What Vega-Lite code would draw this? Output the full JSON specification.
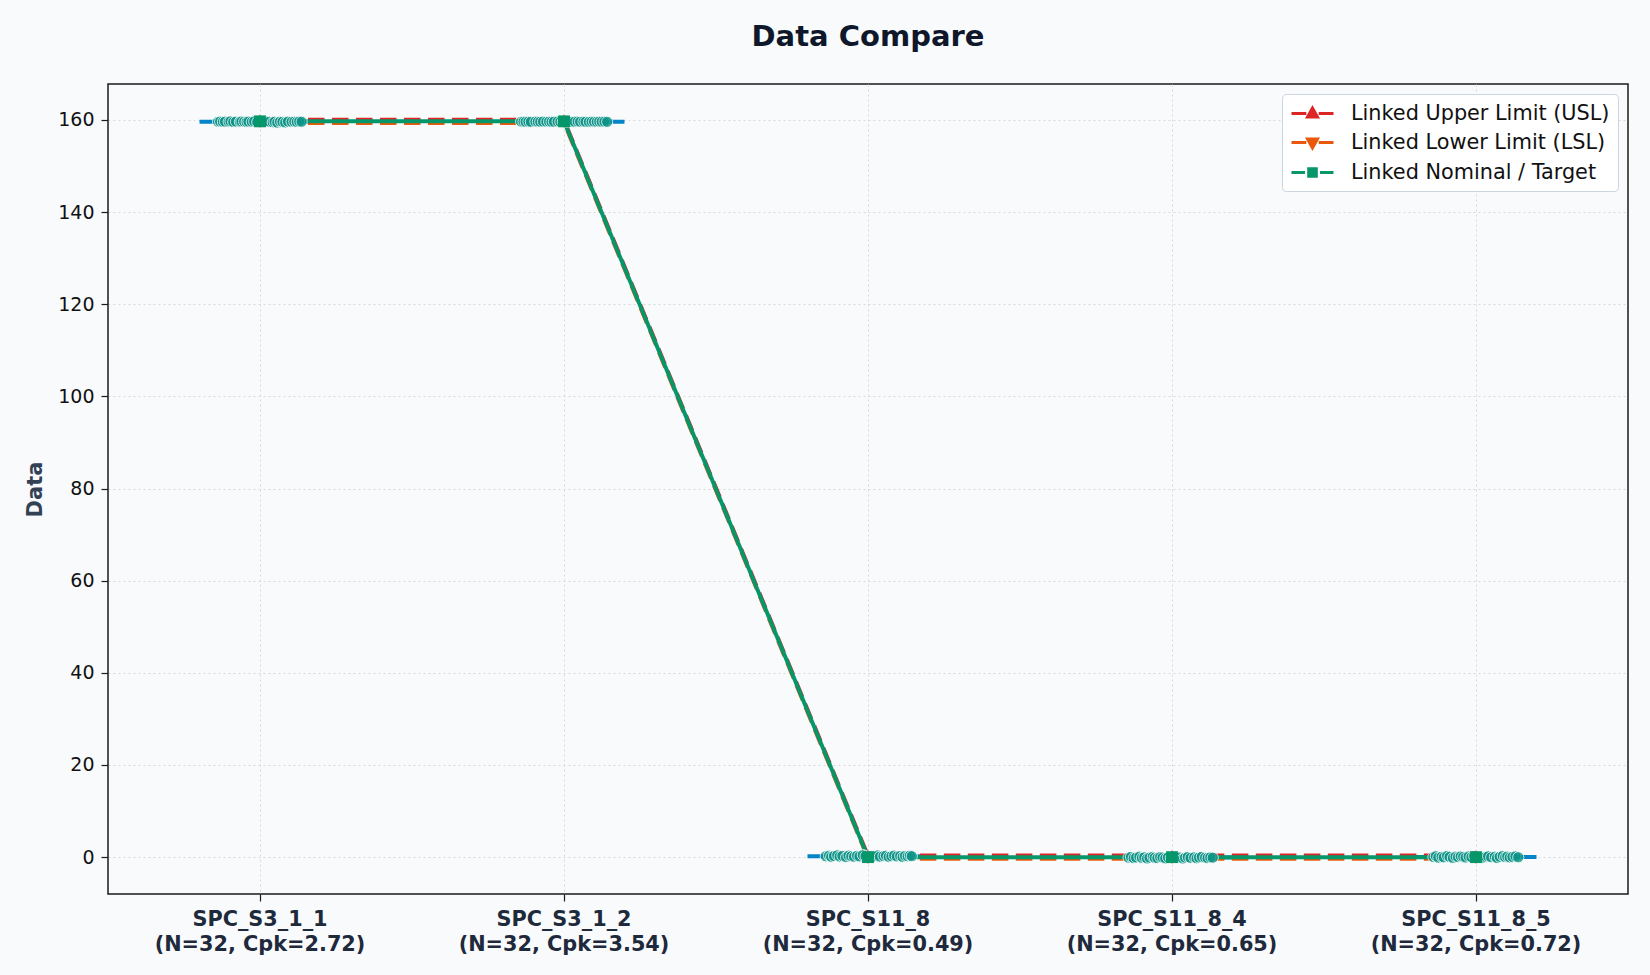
{
  "$schema": "https://vega.github.io/schema/vega-lite/v6.json",
  "width": 1520,
  "height": 810,
  "autosize": {"type": "none"},
  "padding": {"left": 108, "top": 84, "right": 22, "bottom": 81},
  "background": "#f8fafc",
  "title": {
    "text": "Data Compare",
    "font": "DejaVu Sans",
    "fontSize": 29,
    "fontWeight": "bold",
    "color": "#0f172a",
    "anchor": "middle",
    "baseline": "alphabetic",
    "offset": 9
  },
  "config": {
    "font": "DejaVu Sans",
    "view": {"fill": "white", "stroke": "#1a1a1a", "strokeWidth": 1.5}
  },
  "datasets": {
    "limits": [
      {"g": "SPC_S3_1_1", "label": "SPC_S3_1_1\n(N=32, Cpk=2.72)", "usl": 160.1, "lsl": 159.3, "nom": 159.7},
      {"g": "SPC_S3_1_2", "label": "SPC_S3_1_2\n(N=32, Cpk=3.54)", "usl": 160.1, "lsl": 159.3, "nom": 159.7},
      {"g": "SPC_S11_8", "label": "SPC_S11_8\n(N=32, Cpk=0.49)", "usl": 0.4, "lsl": -0.4, "nom": 0},
      {"g": "SPC_S11_8_4", "label": "SPC_S11_8_4\n(N=32, Cpk=0.65)", "usl": 0.4, "lsl": -0.4, "nom": 0},
      {"g": "SPC_S11_8_5", "label": "SPC_S11_8_5\n(N=32, Cpk=0.72)", "usl": 0.4, "lsl": -0.4, "nom": 0}
    ],
    "series": [
      {"series": "Linked Upper Limit (USL)"},
      {"series": "Linked Lower Limit (LSL)"},
      {"series": "Linked Nominal / Target"}
    ],
    "points": [
      {"g": "SPC_S3_1_1", "j": -0.138, "v": 159.60}, {"g": "SPC_S3_1_1", "j": -0.131, "v": 159.66},
      {"g": "SPC_S3_1_1", "j": -0.122, "v": 159.58}, {"g": "SPC_S3_1_1", "j": -0.115, "v": 159.63},
      {"g": "SPC_S3_1_1", "j": -0.103, "v": 159.61}, {"g": "SPC_S3_1_1", "j": -0.097, "v": 159.70},
      {"g": "SPC_S3_1_1", "j": -0.088, "v": 159.55}, {"g": "SPC_S3_1_1", "j": -0.079, "v": 159.64},
      {"g": "SPC_S3_1_1", "j": -0.066, "v": 159.59}, {"g": "SPC_S3_1_1", "j": -0.061, "v": 159.67},
      {"g": "SPC_S3_1_1", "j": -0.052, "v": 159.62}, {"g": "SPC_S3_1_1", "j": -0.044, "v": 159.57},
      {"g": "SPC_S3_1_1", "j": -0.038, "v": 159.65}, {"g": "SPC_S3_1_1", "j": -0.027, "v": 159.60},
      {"g": "SPC_S3_1_1", "j": -0.019, "v": 159.68}, {"g": "SPC_S3_1_1", "j": -0.009, "v": 159.54},
      {"g": "SPC_S3_1_1", "j": 0.003, "v": 159.63}, {"g": "SPC_S3_1_1", "j": 0.011, "v": 159.59},
      {"g": "SPC_S3_1_1", "j": 0.022, "v": 159.66}, {"g": "SPC_S3_1_1", "j": 0.031, "v": 159.61},
      {"g": "SPC_S3_1_1", "j": 0.042, "v": 159.48}, {"g": "SPC_S3_1_1", "j": 0.048, "v": 159.62},
      {"g": "SPC_S3_1_1", "j": 0.057, "v": 159.40}, {"g": "SPC_S3_1_1", "j": 0.066, "v": 159.64},
      {"g": "SPC_S3_1_1", "j": 0.074, "v": 159.58}, {"g": "SPC_S3_1_1", "j": 0.083, "v": 159.45},
      {"g": "SPC_S3_1_1", "j": 0.092, "v": 159.65}, {"g": "SPC_S3_1_1", "j": 0.104, "v": 159.60},
      {"g": "SPC_S3_1_1", "j": 0.113, "v": 159.63}, {"g": "SPC_S3_1_1", "j": 0.121, "v": 159.57},
      {"g": "SPC_S3_1_1", "j": 0.129, "v": 159.66}, {"g": "SPC_S3_1_1", "j": 0.137, "v": 159.61},

      {"g": "SPC_S3_1_2", "j": -0.141, "v": 159.61}, {"g": "SPC_S3_1_2", "j": -0.133, "v": 159.64},
      {"g": "SPC_S3_1_2", "j": -0.126, "v": 159.60}, {"g": "SPC_S3_1_2", "j": -0.117, "v": 159.63},
      {"g": "SPC_S3_1_2", "j": -0.109, "v": 159.59}, {"g": "SPC_S3_1_2", "j": -0.094, "v": 159.65},
      {"g": "SPC_S3_1_2", "j": -0.086, "v": 159.62}, {"g": "SPC_S3_1_2", "j": -0.078, "v": 159.60},
      {"g": "SPC_S3_1_2", "j": -0.069, "v": 159.64}, {"g": "SPC_S3_1_2", "j": -0.058, "v": 159.61},
      {"g": "SPC_S3_1_2", "j": -0.049, "v": 159.63}, {"g": "SPC_S3_1_2", "j": -0.041, "v": 159.58},
      {"g": "SPC_S3_1_2", "j": -0.033, "v": 159.62}, {"g": "SPC_S3_1_2", "j": -0.021, "v": 159.65},
      {"g": "SPC_S3_1_2", "j": -0.012, "v": 159.60}, {"g": "SPC_S3_1_2", "j": -0.004, "v": 159.63},
      {"g": "SPC_S3_1_2", "j": 0.006, "v": 159.61}, {"g": "SPC_S3_1_2", "j": 0.017, "v": 159.64},
      {"g": "SPC_S3_1_2", "j": 0.026, "v": 159.59}, {"g": "SPC_S3_1_2", "j": 0.035, "v": 159.62},
      {"g": "SPC_S3_1_2", "j": 0.045, "v": 159.66}, {"g": "SPC_S3_1_2", "j": 0.053, "v": 159.60},
      {"g": "SPC_S3_1_2", "j": 0.064, "v": 159.63}, {"g": "SPC_S3_1_2", "j": 0.071, "v": 159.61},
      {"g": "SPC_S3_1_2", "j": 0.082, "v": 159.58}, {"g": "SPC_S3_1_2", "j": 0.091, "v": 159.64},
      {"g": "SPC_S3_1_2", "j": 0.099, "v": 159.62}, {"g": "SPC_S3_1_2", "j": 0.108, "v": 159.60},
      {"g": "SPC_S3_1_2", "j": 0.116, "v": 159.65}, {"g": "SPC_S3_1_2", "j": 0.124, "v": 159.61},
      {"g": "SPC_S3_1_2", "j": 0.133, "v": 159.63}, {"g": "SPC_S3_1_2", "j": 0.142, "v": 159.59},

      {"g": "SPC_S11_8", "j": -0.139, "v": 0.18}, {"g": "SPC_S11_8", "j": -0.128, "v": 0.32},
      {"g": "SPC_S11_8", "j": -0.121, "v": 0.05}, {"g": "SPC_S11_8", "j": -0.112, "v": 0.24},
      {"g": "SPC_S11_8", "j": -0.101, "v": 0.41}, {"g": "SPC_S11_8", "j": -0.093, "v": 0.12},
      {"g": "SPC_S11_8", "j": -0.084, "v": 0.27}, {"g": "SPC_S11_8", "j": -0.072, "v": -0.02},
      {"g": "SPC_S11_8", "j": -0.064, "v": 0.35}, {"g": "SPC_S11_8", "j": -0.055, "v": 0.19},
      {"g": "SPC_S11_8", "j": -0.046, "v": 0.08}, {"g": "SPC_S11_8", "j": -0.036, "v": 0.29},
      {"g": "SPC_S11_8", "j": -0.028, "v": 0.15}, {"g": "SPC_S11_8", "j": -0.017, "v": 0.44},
      {"g": "SPC_S11_8", "j": -0.008, "v": 0.22}, {"g": "SPC_S11_8", "j": 0.002, "v": 0.01},
      {"g": "SPC_S11_8", "j": 0.013, "v": 0.26}, {"g": "SPC_S11_8", "j": 0.021, "v": 0.17},
      {"g": "SPC_S11_8", "j": 0.032, "v": 0.38}, {"g": "SPC_S11_8", "j": 0.039, "v": 0.10},
      {"g": "SPC_S11_8", "j": 0.051, "v": 0.23}, {"g": "SPC_S11_8", "j": 0.059, "v": 0.31},
      {"g": "SPC_S11_8", "j": 0.068, "v": 0.06}, {"g": "SPC_S11_8", "j": 0.077, "v": 0.20},
      {"g": "SPC_S11_8", "j": 0.086, "v": 0.36}, {"g": "SPC_S11_8", "j": 0.095, "v": 0.14},
      {"g": "SPC_S11_8", "j": 0.106, "v": 0.25}, {"g": "SPC_S11_8", "j": 0.114, "v": 0.03},
      {"g": "SPC_S11_8", "j": 0.122, "v": 0.28}, {"g": "SPC_S11_8", "j": 0.131, "v": 0.16},
      {"g": "SPC_S11_8", "j": 0.138, "v": 0.33}, {"g": "SPC_S11_8", "j": 0.144, "v": 0.21},

      {"g": "SPC_S11_8_4", "j": -0.143, "v": -0.12}, {"g": "SPC_S11_8_4", "j": -0.135, "v": 0.05},
      {"g": "SPC_S11_8_4", "j": -0.126, "v": -0.24}, {"g": "SPC_S11_8_4", "j": -0.118, "v": -0.08},
      {"g": "SPC_S11_8_4", "j": -0.107, "v": 0.12}, {"g": "SPC_S11_8_4", "j": -0.099, "v": -0.18},
      {"g": "SPC_S11_8_4", "j": -0.091, "v": -0.03}, {"g": "SPC_S11_8_4", "j": -0.082, "v": -0.31},
      {"g": "SPC_S11_8_4", "j": -0.074, "v": -0.10}, {"g": "SPC_S11_8_4", "j": -0.063, "v": 0.08},
      {"g": "SPC_S11_8_4", "j": -0.057, "v": -0.15}, {"g": "SPC_S11_8_4", "j": -0.048, "v": -0.22},
      {"g": "SPC_S11_8_4", "j": -0.039, "v": 0.02}, {"g": "SPC_S11_8_4", "j": -0.031, "v": -0.09},
      {"g": "SPC_S11_8_4", "j": -0.022, "v": -0.27}, {"g": "SPC_S11_8_4", "j": -0.013, "v": -0.05},
      {"g": "SPC_S11_8_4", "j": -0.004, "v": -0.14}, {"g": "SPC_S11_8_4", "j": 0.008, "v": 0.10},
      {"g": "SPC_S11_8_4", "j": 0.016, "v": -0.19}, {"g": "SPC_S11_8_4", "j": 0.024, "v": -0.07},
      {"g": "SPC_S11_8_4", "j": 0.036, "v": -0.33}, {"g": "SPC_S11_8_4", "j": 0.043, "v": -0.11},
      {"g": "SPC_S11_8_4", "j": 0.052, "v": 0.04}, {"g": "SPC_S11_8_4", "j": 0.061, "v": -0.16},
      {"g": "SPC_S11_8_4", "j": 0.073, "v": -0.02}, {"g": "SPC_S11_8_4", "j": 0.081, "v": -0.25},
      {"g": "SPC_S11_8_4", "j": 0.089, "v": -0.08}, {"g": "SPC_S11_8_4", "j": 0.098, "v": 0.07},
      {"g": "SPC_S11_8_4", "j": 0.109, "v": -0.13}, {"g": "SPC_S11_8_4", "j": 0.117, "v": -0.21},
      {"g": "SPC_S11_8_4", "j": 0.126, "v": -0.04}, {"g": "SPC_S11_8_4", "j": 0.134, "v": -0.12},

      {"g": "SPC_S11_8_5", "j": -0.140, "v": 0.02}, {"g": "SPC_S11_8_5", "j": -0.132, "v": 0.21},
      {"g": "SPC_S11_8_5", "j": -0.124, "v": -0.12}, {"g": "SPC_S11_8_5", "j": -0.113, "v": 0.09},
      {"g": "SPC_S11_8_5", "j": -0.106, "v": -0.05}, {"g": "SPC_S11_8_5", "j": -0.095, "v": 0.27},
      {"g": "SPC_S11_8_5", "j": -0.087, "v": 0.04}, {"g": "SPC_S11_8_5", "j": -0.076, "v": -0.18},
      {"g": "SPC_S11_8_5", "j": -0.067, "v": 0.13}, {"g": "SPC_S11_8_5", "j": -0.059, "v": -0.02},
      {"g": "SPC_S11_8_5", "j": -0.050, "v": 0.19}, {"g": "SPC_S11_8_5", "j": -0.042, "v": 0.07},
      {"g": "SPC_S11_8_5", "j": -0.034, "v": -0.09}, {"g": "SPC_S11_8_5", "j": -0.024, "v": 0.15},
      {"g": "SPC_S11_8_5", "j": -0.015, "v": 0.00}, {"g": "SPC_S11_8_5", "j": -0.006, "v": 0.24},
      {"g": "SPC_S11_8_5", "j": 0.005, "v": -0.06}, {"g": "SPC_S11_8_5", "j": 0.014, "v": 0.11},
      {"g": "SPC_S11_8_5", "j": 0.023, "v": -0.14}, {"g": "SPC_S11_8_5", "j": 0.033, "v": 0.06},
      {"g": "SPC_S11_8_5", "j": 0.040, "v": 0.18}, {"g": "SPC_S11_8_5", "j": 0.050, "v": -0.03},
      {"g": "SPC_S11_8_5", "j": 0.062, "v": 0.10}, {"g": "SPC_S11_8_5", "j": 0.069, "v": -0.20},
      {"g": "SPC_S11_8_5", "j": 0.078, "v": 0.08}, {"g": "SPC_S11_8_5", "j": 0.088, "v": 0.26},
      {"g": "SPC_S11_8_5", "j": 0.096, "v": -0.01}, {"g": "SPC_S11_8_5", "j": 0.103, "v": 0.14},
      {"g": "SPC_S11_8_5", "j": 0.111, "v": -0.08}, {"g": "SPC_S11_8_5", "j": 0.120, "v": 0.05},
      {"g": "SPC_S11_8_5", "j": 0.130, "v": 0.17}, {"g": "SPC_S11_8_5", "j": 0.139, "v": -0.04}
    ]
  },
  "layer": [
    {
      "data": {"name": "points"},
      "transform": [
        {"lookup": "g", "from": {"data": {"name": "limits"}, "key": "g", "fields": ["label"]}}
      ],
      "mark": {"type": "tick", "color": "#0284c7", "thickness": 4, "size": 121},
      "encoding": {
        "x": {
          "field": "label",
          "type": "nominal",
          "title": null,
          "scale": {
            "type": "band",
            "paddingInner": 0,
            "paddingOuter": 0,
            "domain": [
              "SPC_S3_1_1\n(N=32, Cpk=2.72)",
              "SPC_S3_1_2\n(N=32, Cpk=3.54)",
              "SPC_S11_8\n(N=32, Cpk=0.49)",
              "SPC_S11_8_4\n(N=32, Cpk=0.65)",
              "SPC_S11_8_5\n(N=32, Cpk=0.72)"
            ]
          },
          "axis": {
            "grid": true,
            "gridColor": "#d9d9d9",
            "gridDash": [2, 3],
            "gridWidth": 1,
            "domain": false,
            "ticks": true,
            "tickSize": 7,
            "tickColor": "#1a1a1a",
            "tickWidth": 1.2,
            "labelAngle": 0,
            "labelFont": "DejaVu Sans",
            "labelFontSize": 20.8,
            "labelFontWeight": "bold",
            "labelColor": "#1e293b",
            "labelExpr": "split(datum.label, '\\n')",
            "labelLineHeight": 25,
            "labelBaseline": "top",
            "labelPadding": 8,
            "labelLimit": 500
          }
        },
        "y": {
          "aggregate": "mean",
          "field": "v",
          "type": "quantitative",
          "title": "Data",
          "scale": {"domain": [-8.0, 167.8], "nice": false, "zero": false},
          "axis": {
            "values": [0, 20, 40, 60, 80, 100, 120, 140, 160],
            "grid": true,
            "gridColor": "#d9d9d9",
            "gridDash": [2, 3],
            "gridWidth": 1,
            "domain": false,
            "tickSize": 7,
            "tickColor": "#1a1a1a",
            "tickWidth": 1.2,
            "labelFont": "DejaVu Sans",
            "labelFontSize": 19,
            "labelColor": "#111111",
            "labelPadding": 7,
            "titleFont": "DejaVu Sans",
            "titleFontSize": 21,
            "titleFontWeight": "bold",
            "titleColor": "#334155",
            "titleX": -73,
            "titleY": 405,
            "titleAngle": 270,
            "titleAlign": "center",
            "titleBaseline": "middle"
          }
        }
      }
    },
    {
      "data": {"name": "limits"},
      "mark": {"type": "line", "color": "#dc2626", "strokeWidth": 3.5, "strokeDash": [16.5, 7.5]},
      "encoding": {
        "x": {"field": "label", "type": "nominal", "title": null, "scale": {"type": "band"}},
        "y": {"field": "usl", "type": "quantitative", "title": "Data"}
      }
    },
    {
      "data": {"name": "limits"},
      "mark": {"type": "line", "color": "#ea580c", "strokeWidth": 3.5, "strokeDash": [16.5, 7.5]},
      "encoding": {
        "x": {"field": "label", "type": "nominal", "title": null, "scale": {"type": "band"}},
        "y": {"field": "lsl", "type": "quantitative", "title": "Data"}
      }
    },
    {
      "data": {"name": "limits"},
      "mark": {"type": "line", "color": "#059669", "strokeWidth": 4},
      "encoding": {
        "x": {"field": "label", "type": "nominal", "title": null, "scale": {"type": "band"}},
        "y": {"field": "nom", "type": "quantitative", "title": "Data"}
      }
    },
    {
      "data": {"name": "points"},
      "transform": [
        {"lookup": "g", "from": {"data": {"name": "limits"}, "key": "g", "fields": ["label"]}}
      ],
      "mark": {"type": "circle", "size": 125, "color": "#0d9488", "opacity": 0.78, "stroke": "white", "strokeWidth": 1},
      "encoding": {
        "x": {"field": "label", "type": "nominal", "title": null, "scale": {"type": "band"}},
        "xOffset": {"field": "j", "type": "quantitative", "scale": {"domain": [-0.5, 0.5]}},
        "y": {"field": "v", "type": "quantitative", "title": "Data"}
      }
    },
    {
      "data": {"name": "limits"},
      "mark": {"type": "point", "shape": "triangle-up", "filled": true, "size": 130, "color": "#dc2626", "opacity": 1},
      "encoding": {
        "x": {"field": "label", "type": "nominal", "title": null, "scale": {"type": "band"}},
        "y": {"field": "usl", "type": "quantitative", "title": "Data"}
      }
    },
    {
      "data": {"name": "limits"},
      "mark": {"type": "point", "shape": "triangle-down", "filled": true, "size": 130, "color": "#ea580c", "opacity": 1},
      "encoding": {
        "x": {"field": "label", "type": "nominal", "title": null, "scale": {"type": "band"}},
        "y": {"field": "lsl", "type": "quantitative", "title": "Data"}
      }
    },
    {
      "data": {"name": "limits"},
      "mark": {"type": "point", "shape": "square", "filled": true, "size": 140, "color": "#059669", "opacity": 1},
      "encoding": {
        "x": {"field": "label", "type": "nominal", "title": null, "scale": {"type": "band"}},
        "y": {"field": "nom", "type": "quantitative", "title": "Data"}
      }
    },
    {
      "data": {"name": "series"},
      "mark": {"type": "point", "filled": false, "opacity": 0, "strokeWidth": 3},
      "encoding": {
        "color": {
          "field": "series",
          "type": "nominal",
          "scale": {
            "domain": ["Linked Upper Limit (USL)", "Linked Lower Limit (LSL)", "Linked Nominal / Target"],
            "range": ["#dc2626", "#ea580c", "#059669"]
          },
          "legend": {
            "title": null,
            "orient": "top-right",
            "offset": 10,
            "padding": 8,
            "fillColor": "white",
            "strokeColor": "#cbd5e1",
            "cornerRadius": 4,
            "labelFont": "DejaVu Sans",
            "labelFontSize": 20.8,
            "labelColor": "#111111",
            "labelLimit": 400,
            "labelOffset": 27,
            "symbolSize": 400,
            "symbolStrokeWidth": 3,
            "symbolOffset": 11,
            "rowPadding": 7
          }
        },
        "shape": {
          "field": "series",
          "type": "nominal",
          "scale": {
            "domain": ["Linked Upper Limit (USL)", "Linked Lower Limit (LSL)", "Linked Nominal / Target"],
            "range": [
              "M-2.1,0H-0.62M0.62,0H2.1M0,-0.55L-0.5,0.35L0.5,0.35Z M0,-0.15L-0.15,0.12L0.15,0.12Z",
              "M-2.1,0H-0.62M0.62,0H2.1M0,0.55L-0.5,-0.35L0.5,-0.35Z M0,0.15L-0.15,-0.12L0.15,-0.12Z",
              "M-2.1,0H-0.75M0.75,0H2.1M-0.38,-0.38H0.38V0.38H-0.38Z M-0.1,-0.1H0.1V0.1H-0.1Z"
            ]
          },
          "legend": {
            "title": null,
            "orient": "top-right",
            "offset": 10,
            "padding": 8,
            "fillColor": "white",
            "strokeColor": "#cbd5e1",
            "cornerRadius": 4,
            "labelFont": "DejaVu Sans",
            "labelFontSize": 20.8,
            "labelColor": "#111111",
            "labelLimit": 400,
            "labelOffset": 27,
            "symbolSize": 400,
            "symbolStrokeWidth": 3,
            "symbolOffset": 11,
            "rowPadding": 7
          }
        }
      }
    }
  ]
}
